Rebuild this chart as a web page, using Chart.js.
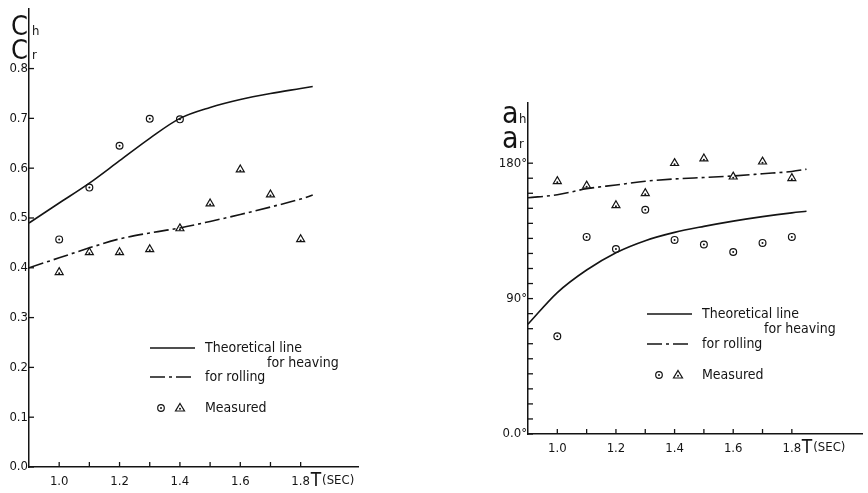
<!DOCTYPE html>
<html>
<head>
<meta charset="utf-8">
<script src="https://cdn.jsdelivr.net/npm/chart.js@4"></script>
<style>
html, body { margin: 0; padding: 0; background: #fff; }
#wrap { position: relative; width: 868px; height: 493px; overflow: hidden; }
#leftBox { position: absolute; left: 0; top: 0; width: 430px; height: 493px; }
#rightBox { position: absolute; left: 490px; top: 0; width: 378px; height: 493px; }
</style>
</head>
<body>
<div id="wrap">
    <div id="leftBox"><canvas id="cChart"></canvas></div>
    <div id="rightBox"><canvas id="aChart"></canvas></div>
</div>
<script>
// wave period T (sec)
const theoryT = [0.9, 1.0, 1.1, 1.2, 1.3, 1.4, 1.5, 1.6, 1.7, 1.8, 1.84];
const theoryTPhase = [0.9, 1.0, 1.1, 1.2, 1.3, 1.4, 1.5, 1.6, 1.7, 1.8, 1.85];
const measuredT = [1.0, 1.1, 1.2, 1.3, 1.4, 1.5, 1.6, 1.7, 1.8];
const heaveCoefT = [1.0, 1.1, 1.2, 1.3, 1.4];

// left: coefficients C_h, C_r
const cHeaveTheory = [0.49, 0.53, 0.57, 0.615, 0.66, 0.70, 0.722, 0.738, 0.75, 0.76, 0.764];
const cRollTheory = [0.40, 0.42, 0.44, 0.458, 0.47, 0.48, 0.493, 0.507, 0.522, 0.538, 0.546];
const cHeaveMeasured = [0.457, 0.561, 0.645, 0.699, 0.698];
const cRollMeasured = [0.391, 0.431, 0.431, 0.437, 0.479, 0.529, 0.597, 0.547, 0.457];

// right: phase angles a_h, a_r (deg)
const aHeaveTheory = [73, 94, 109, 120.5, 128.5, 134, 138, 141.5, 144.5, 147, 148];
const aRollTheory = [157, 159, 163, 165.5, 168, 169.5, 170.5, 171.5, 173, 174.5, 176];
const aHeaveMeasured = [65, 131, 123, 149, 129, 126, 121, 127, 131];
const aRollMeasured = [168, 165, 152, 160, 180, 183, 171, 181, 170];

// tick values and labels
const xTicks = [1.0, 1.1, 1.2, 1.3, 1.4, 1.5, 1.6, 1.7, 1.8];
const xTickLabels = ['1.0', '', '1.2', '', '1.4', '', '1.6', '', '1.8'];
const cTicks = [0, 0.1, 0.2, 0.3, 0.4, 0.5, 0.6, 0.7, 0.8];
const cTickLabels = ['0.0', '0.1', '0.2', '0.3', '0.4', '0.5', '0.6', '0.7', '0.8'];
const aTicks = [0, 10, 20, 30, 40, 50, 60, 70, 80, 90, 100, 110, 120, 130, 140, 150, 160, 170, 180];
const aTickLabels = ['0.0°', '', '', '', '', '', '', '', '', '90°', '', '', '', '', '', '', '', '', '180°'];

const INK = '#141414';
const FONT = '"DejaVu Sans Condensed", "DejaVu Sans", sans-serif';
const ROLL_DASH = [15, 4, 3, 4];

function pts(xs, ys) {
    return ys.map(function(y, i) { return { x: xs[i], y: y }; });
}

// short tick marks pointing into the plot, like the drawn figure
const innerTicks = {
    id: 'innerTicks',
    afterDraw(chart) {
        const ctx = chart.ctx;
        const area = chart.chartArea;
        ctx.save();
        ctx.strokeStyle = INK;
        ctx.lineWidth = 1.3;
        chart.scales.x.ticks.forEach(function(t) {
            const px = chart.scales.x.getPixelForValue(t.value);
            ctx.beginPath();
            ctx.moveTo(px, area.bottom);
            ctx.lineTo(px, area.bottom - 5);
            ctx.stroke();
        });
        chart.scales.y.ticks.forEach(function(t) {
            const py = chart.scales.y.getPixelForValue(t.value);
            ctx.beginPath();
            ctx.moveTo(area.left - 1, py);
            ctx.lineTo(area.left + 5, py);
            ctx.stroke();
        });
        ctx.restore();
    }
};

// little centre dot in each measured marker
const centreDots = {
    id: 'centreDots',
    afterDatasetsDraw(chart) {
        const ctx = chart.ctx;
        ctx.save();
        ctx.fillStyle = INK;
        chart.data.datasets.forEach(function(ds, i) {
            if (!ds.showLine && ds.showLine !== undefined) {
                chart.getDatasetMeta(i).data.forEach(function(el) {
                    ctx.beginPath();
                    ctx.arc(el.x, el.y + (ds.pointStyle === 'triangle' ? 1 : 0), 1, 0, Math.PI * 2);
                    ctx.fill();
                });
            }
        });
        ctx.restore();
    }
};

function drawMarker(ctx, kind, x, y) {
    ctx.beginPath();
    if (kind === 'circle') {
        ctx.arc(x, y, 3.3, 0, Math.PI * 2);
    } else {
        ctx.moveTo(x, y - 4.5);
        ctx.lineTo(x + 4.5, y + 3);
        ctx.lineTo(x - 4.5, y + 3);
        ctx.closePath();
    }
    ctx.stroke();
    ctx.beginPath();
    ctx.arc(x, y + (kind === 'circle' ? 0 : 0.8), 1, 0, Math.PI * 2);
    ctx.fill();
}

// hand drawn legend + axis titles
function figureText(opts) {
    return {
        id: 'figureText',
        afterDraw(chart) {
            const ctx = chart.ctx;
            const L = opts.legend;
            ctx.save();
            ctx.strokeStyle = INK;
            ctx.fillStyle = INK;
            ctx.lineWidth = 1.5;

            ctx.beginPath();
            ctx.moveTo(L.x0, L.y1);
            ctx.lineTo(L.x1, L.y1);
            ctx.stroke();
            ctx.setLineDash(ROLL_DASH);
            ctx.beginPath();
            ctx.moveTo(L.x0, L.y2);
            ctx.lineTo(L.x1, L.y2);
            ctx.stroke();
            ctx.setLineDash([]);
            ctx.lineWidth = 1.2;
            drawMarker(ctx, 'circle', L.mx, L.y3);
            drawMarker(ctx, 'triangle', L.mx + 19, L.y3);

            ctx.font = '14px ' + FONT;
            ctx.textBaseline = 'middle';
            ctx.textAlign = 'left';
            ctx.fillText('Theoretical line', L.tx, L.y1);
            ctx.fillText('for heaving', L.tx + 62, L.y1 + 15);
            ctx.fillText('for rolling', L.tx, L.y2);
            ctx.fillText('Measured', L.tx, L.y3);

            // axis symbol, e.g. C_h / C_r
            const area = chart.chartArea;
            const ax = opts.sym;
            ctx.font = ax.size + 'px ' + FONT;
            ctx.textBaseline = 'alphabetic';
            ctx.fillText(ax.main, ax.x, ax.y1);
            ctx.fillText(ax.main, ax.x, ax.y2);
            ctx.font = '13px ' + FONT;
            ctx.fillText(ax.sub1, ax.subX, ax.y1);
            ctx.fillText(ax.sub2, ax.subX, ax.y2);

            // T(SEC) after the last x label
            const xs = chart.scales.x;
            const px = xs.getPixelForValue(1.8) + 10;
            const py = area.bottom + 14;
            ctx.font = '19px ' + FONT;
            ctx.textBaseline = 'middle';
            ctx.fillText('T', px, py);
            const tw = ctx.measureText('T').width;
            ctx.font = '13px ' + FONT;
            ctx.fillText('(SEC)', px + tw + 1, py);
            ctx.restore();
        }
    };
}

function makeOptions(cfg) {
    return {
        responsive: true,
        maintainAspectRatio: false,
        animation: false,
        layout: { padding: cfg.padding },
        plugins: {
            legend: { display: false },
            tooltip: { enabled: false }
        },
        scales: {
            x: {
                type: 'linear',
                min: 0.9,
                max: cfg.xMax,
                afterBuildTicks: function(s) { s.ticks = xTicks.map(function(v) { return { value: v }; }); },
                afterFit: function(s) { s.height = 26; },
                grid: { drawOnChartArea: false, drawTicks: false },
                border: { color: INK, width: 1.5 },
                ticks: {
                    color: INK,
                    padding: 7,
                    maxRotation: 0,
                    autoSkip: false,
                    font: { family: FONT, size: 13 },
                    callback: function(v, i) { return xTickLabels[i]; }
                }
            },
            y: {
                min: 0,
                max: cfg.yMax,
                afterBuildTicks: function(s) { s.ticks = cfg.yTicks.map(function(v) { return { value: v }; }); },
                afterFit: function(s) { s.width = cfg.yWidth; },
                grid: { drawOnChartArea: false, drawTicks: false },
                border: { color: INK, width: 1.5 },
                ticks: {
                    color: INK,
                    padding: 1,
                    autoSkip: false,
                    font: { family: FONT, size: 13 },
                    callback: function(v, i) { return cfg.yLabels[i]; }
                }
            }
        }
    };
}

function lineSet(data, dash) {
    return {
        data: data,
        showLine: true,
        borderColor: INK,
        borderWidth: 1.6,
        borderDash: dash,
        pointRadius: 0,
        fill: false,
        cubicInterpolationMode: 'monotone'
    };
}

function markerSet(data, style) {
    return {
        data: data,
        showLine: false,
        pointStyle: style,
        pointRadius: style === 'triangle' ? 4.6 : 3.4,
        pointBorderWidth: 1.2,
        pointBorderColor: INK,
        pointBackgroundColor: 'rgba(255,255,255,0)'
    };
}

new Chart(document.getElementById('cChart').getContext('2d'), {
    type: 'scatter',
    data: {
        datasets: [
            lineSet(pts(theoryT, cHeaveTheory), []),
            lineSet(pts(theoryT, cRollTheory), ROLL_DASH),
            markerSet(pts(heaveCoefT, cHeaveMeasured), 'circle'),
            markerSet(pts(measuredT, cRollMeasured), 'triangle')
        ]
    },
    options: makeOptions({
        padding: { top: 5, right: 72, bottom: 0, left: 0 },
        xMax: 1.99,
        yMax: 0.92,
        yTicks: cTicks,
        yLabels: cTickLabels,
        yWidth: 29
    }),
    plugins: [innerTicks, centreDots, figureText({
        legend: { x0: 150, x1: 195, tx: 205, mx: 161, y1: 348, y2: 377, y3: 408 },
        sym: { main: 'C', sub1: 'h', sub2: 'r', size: 27, x: 11, subX: 32, y1: 35, y2: 59 }
    })]
});

new Chart(document.getElementById('aChart').getContext('2d'), {
    type: 'scatter',
    data: {
        datasets: [
            lineSet(pts(theoryTPhase, aHeaveTheory), []),
            lineSet(pts(theoryTPhase, aRollTheory), ROLL_DASH),
            markerSet(pts(measuredT, aHeaveMeasured), 'circle'),
            markerSet(pts(measuredT, aRollMeasured), 'triangle')
        ]
    },
    options: makeOptions({
        padding: { top: 103, right: 2, bottom: 33, left: 0 },
        xMax: 2.04,
        yMax: 220,
        yTicks: aTicks,
        yLabels: aTickLabels,
        yWidth: 38
    }),
    plugins: [innerTicks, centreDots, figureText({
        legend: { x0: 157, x1: 202, tx: 212, mx: 169, y1: 314, y2: 344, y3: 375 },
        sym: { main: 'a', sub1: 'h', sub2: 'r', size: 30, x: 12, subX: 29, y1: 123, y2: 148 }
    })]
});
</script>
</body>
</html>
